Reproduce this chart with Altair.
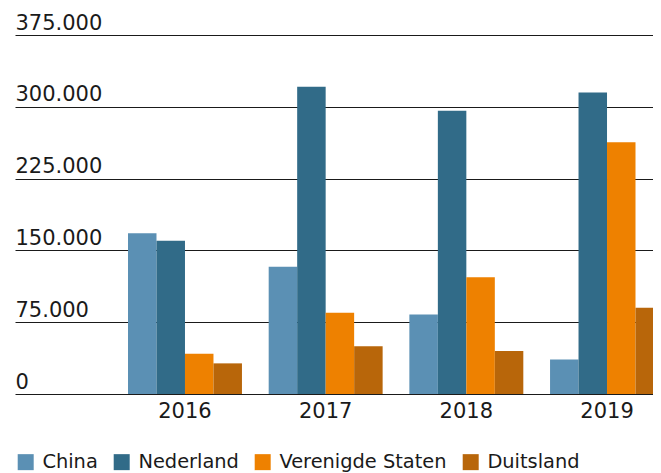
import altair as alt
import pandas as pd

years = ["2016", "2017", "2018", "2019"]
countries = ["China", "Nederland", "Verenigde Staten", "Duitsland"]
china = [168000, 133000, 83000, 36000]
nederland = [160000, 321000, 296000, 315000]
verenigde_staten = [42000, 85000, 122000, 263000]
duitsland = [32000, 50000, 45000, 90000]
colors = ["#5b90b4", "#316b88", "#ee8100", "#b8660a"]
y_ticks = [0, 75000, 150000, 225000, 300000, 375000]

series = [china, nederland, verenigde_staten, duitsland]
rows = []
for c, vals in zip(countries, series):
    for y, v in zip(years, vals):
        rows.append({"jaar": y, "land": c, "waarde": v})
df = pd.DataFrame(rows)

chart = (
    alt.Chart(df)
    .mark_bar()
    .encode(
        x=alt.X(
            "jaar:N",
            sort=years,
            scale=alt.Scale(domain=years, range=[0, 762], paddingInner=0.19, paddingOuter=0.8033, align=0.5),
            axis=alt.Axis(
                title=None,
                labelAngle=0,
                labelFontSize=21,
                labelColor="#1a1a1a",
                labelPadding=6,
                domain=False,
                ticks=False,
                grid=False,
            ),
        ),
        xOffset=alt.XOffset("land:N", sort=countries, scale=alt.Scale(domain=countries, paddingInner=0, paddingOuter=0)),
        y=alt.Y(
            "waarde:Q",
            scale=alt.Scale(domain=[0, 375000], nice=False),
            axis=alt.Axis(
                title=None,
                values=y_ticks,
                labelExpr="replace(format(datum.value, ',d'), ',', '.')",
                labelAlign="left",
                labelBaseline="alphabetic",
                labelPadding=0,
                labelOffset=-6,
                labelFontSize=21,
                labelColor="#1a1a1a",
                labelFlush=False,
                domain=False,
                ticks=False,
                tickSize=0,
                grid=True,
                gridColor="#1a1a1a",
                gridOpacity=1,
                gridWidth=1,
            ),
        ),
        color=alt.Color(
            "land:N",
            sort=countries,
            scale=alt.Scale(domain=countries, range=colors),
            legend=alt.Legend(
                title=None,
                orient="none",
                legendX=1,
                legendY=417,
                direction="horizontal",
                columns=4,
                columnPadding=14,
                symbolType="square",
                symbolSize=256,
                symbolStrokeWidth=0,
                symbolOpacity=1,
                labelFontSize=19.4,
                labelColor="#1a1a1a",
                labelOffset=7,
                labelLimit=400,
                padding=0,
            ),
        ),
    )
    .properties(
        width=638,
        height=359,
        autosize=alt.AutoSizeParams(type="none"),
        padding={"left": 7, "top": 27, "right": 0, "bottom": 79},
    )
    .configure(font="DejaVu Sans")
    .configure_view(stroke=None)
)

chart.save("out.html", embed_options={"renderer": "svg", "actions": False})
